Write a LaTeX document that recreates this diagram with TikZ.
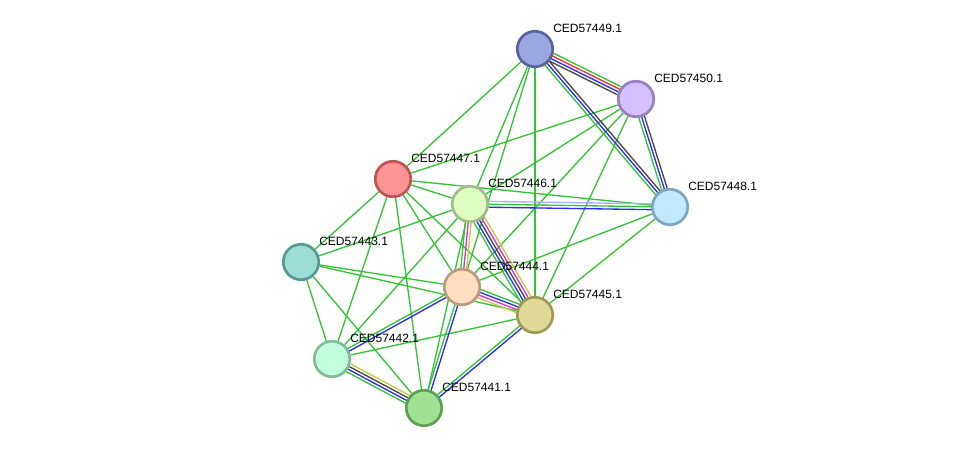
\documentclass[tikz,border=0pt]{standalone}
\usepackage{fontspec}
\setsansfont{Liberation Sans}
\usepackage{tikz}
\usetikzlibrary{calc,backgrounds}
\usepackage{xcolor}
\definecolor{tm}{HTML}{33C433}
\definecolor{co}{HTML}{2B2BF5}
\definecolor{fu}{HTML}{F53030}
\definecolor{cx}{HTML}{474747}
\definecolor{ex}{HTML}{D633D6}
\definecolor{db}{HTML}{C8C83C}
\definecolor{ho}{HTML}{ADADFF}
% one line of an edge, shifted sideways by #3
\newcommand{\ppiedge}[4]{\draw[#4] ($(#1)!#3!90:(#2)$) -- ($(#2)!#3!-90:(#1)$);}

\begin{document}
\begin{tikzpicture}[x=0.75pt,y=-0.75pt,
    prot/.style={circle,line width=2pt,minimum size=26.6pt,inner sep=0pt},
    lbl/.style={anchor=west,inner sep=0pt,font=\fontsize{9}{11}\selectfont\sffamily},
    ln/.style={line width=1pt}
]
\useasboundingbox (0,0) rectangle (975,454);

\node[prot,fill={rgb,255:red,155;green,165;blue,224},draw={rgb,255:red,88;green,99;blue,155}] (p49) at (535,49) {};
\node[prot,fill={rgb,255:red,212;green,192;blue,255},draw={rgb,255:red,150;green,128;blue,192}] (p50) at (636,99) {};
\node[prot,fill={rgb,255:red,255;green,148;blue,148},draw={rgb,255:red,190;green,84;blue,84}] (p47) at (393,179) {};
\node[prot,fill={rgb,255:red,224;green,255;blue,194},draw={rgb,255:red,160;green,188;blue,136}] (p46) at (470,204) {};
\node[prot,fill={rgb,255:red,194;green,232;blue,255},draw={rgb,255:red,127;green,166;blue,192}] (p48) at (670,207) {};
\node[prot,fill={rgb,255:red,154;green,222;blue,213},draw={rgb,255:red,88;green,152;blue,146}] (p43) at (301,262) {};
\node[prot,fill={rgb,255:red,255;green,222;blue,194},draw={rgb,255:red,188;green,154;blue,128}] (p44) at (462,287) {};
\node[prot,fill={rgb,255:red,222;green,218;blue,150},draw={rgb,255:red,158;green,154;blue,85}] (p45) at (535,315) {};
\node[prot,fill={rgb,255:red,194;green,255;blue,221},draw={rgb,255:red,128;green,188;blue,153}] (p42) at (332,359) {};
\node[prot,fill={rgb,255:red,160;green,224;blue,148},draw={rgb,255:red,96;green,160;blue,85}] (p41) at (424,408) {};

\node[lbl] (l49) at ([shift={(18,-21)}]p49.center) {CED57449.1};
\node[lbl] (l50) at ([shift={(18,-21)}]p50.center) {CED57450.1};
\node[lbl] (l47) at ([shift={(18,-21)}]p47.center) {CED57447.1};
\node[lbl] (l46) at ([shift={(18,-21)}]p46.center) {CED57446.1};
\node[lbl] (l48) at ([shift={(18,-21)}]p48.center) {CED57448.1};
\node[lbl] (l43) at ([shift={(18,-21)}]p43.center) {CED57443.1};
\node[lbl] (l44) at ([shift={(18,-21)}]p44.center) {CED57444.1};
\node[lbl] (l45) at ([shift={(18,-21)}]p45.center) {CED57445.1};
\node[lbl] (l42) at ([shift={(18,-21)}]p42.center) {CED57442.1};
\node[lbl] (l41) at ([shift={(18,-21)}]p41.center) {CED57441.1};

\begin{scope}[on background layer]
% single text-mining links
\draw[ln,tm] (p49) -- (p47);
\draw[ln,tm] (p49) -- (p46);
\draw[ln,tm] (p49) -- (p44);
\draw[ln,tm] (p49) -- (p45);
\draw[ln,tm] (p50) -- (p47);
\draw[ln,tm] (p50) -- (p46);
\draw[ln,tm] (p50) -- (p44);
\draw[ln,tm] (p50) -- (p45);
\draw[ln,tm] (p47) -- (p48);
\draw[ln,tm] (p47) -- (p46);
\draw[ln,tm] (p47) -- (p43);
\draw[ln,tm] (p47) -- (p42);
\draw[ln,tm] (p47) -- (p41);
\draw[ln,tm] (p47) -- (p44);
\draw[ln,tm] (p47) -- (p45);
\draw[ln,tm] (p46) -- (p43);
\draw[ln,tm] (p46) -- (p42);
\draw[ln,tm] (p46) -- (p41);
\draw[ln,tm] (p48) -- (p44);
\draw[ln,tm] (p48) -- (p45);
\draw[ln,tm] (p43) -- (p44);
\draw[ln,tm] (p43) -- (p45);
\draw[ln,tm] (p43) -- (p42);
\draw[ln,tm] (p43) -- (p41);
\draw[ln,tm] (p45) -- (p42);

% bundles
\ppiedge{p49}{p50}{3.3pt}{ln,tm}
\ppiedge{p49}{p50}{1.1pt}{ln,fu}
\ppiedge{p49}{p50}{-1.1pt}{ln,co}
\ppiedge{p49}{p50}{-3.3pt}{ln,cx}

\ppiedge{p49}{p48}{2.2pt}{ln,cx}
\ppiedge{p49}{p48}{0pt}{ln,co}
\ppiedge{p49}{p48}{-2.2pt}{ln,tm}

\ppiedge{p50}{p48}{2.2pt}{ln,cx}
\ppiedge{p50}{p48}{0pt}{ln,co}
\ppiedge{p50}{p48}{-2.2pt}{ln,tm}

\ppiedge{p46}{p48}{2.2pt}{ln,ho}
\ppiedge{p46}{p48}{0pt}{ln,tm}
\ppiedge{p46}{p48}{-2.2pt}{ln,co}

\ppiedge{p46}{p45}{4.4pt}{ln,db}
\ppiedge{p46}{p45}{2.2pt}{ln,ex}
\ppiedge{p46}{p45}{0pt}{ln,cx}
\ppiedge{p46}{p45}{-2.2pt}{ln,co}
\ppiedge{p46}{p45}{-4.4pt}{ln,tm}

\ppiedge{p46}{p44}{2.2pt}{ln,db}
\ppiedge{p46}{p44}{0pt}{ln,ex}
\ppiedge{p46}{p44}{-2.2pt}{ln,tm}

\ppiedge{p44}{p45}{3.3pt}{ln,tm}
\ppiedge{p44}{p45}{1.1pt}{ln,co}
\ppiedge{p44}{p45}{-1.1pt}{ln,ex}
\ppiedge{p44}{p45}{-3.3pt}{ln,db}

\ppiedge{p44}{p42}{1.1pt}{ln,co}
\ppiedge{p44}{p42}{-1.1pt}{ln,tm}

\ppiedge{p44}{p41}{1.1pt}{ln,co}
\ppiedge{p44}{p41}{-1.1pt}{ln,tm}

\ppiedge{p45}{p41}{1.1pt}{ln,co}
\ppiedge{p45}{p41}{-1.1pt}{ln,tm}

\ppiedge{p42}{p41}{3.3pt}{ln,db}
\ppiedge{p42}{p41}{1.1pt}{ln,cx}
\ppiedge{p42}{p41}{-1.1pt}{ln,co}
\ppiedge{p42}{p41}{-3.3pt}{ln,tm}
\end{scope}
\end{tikzpicture}
\end{document}
